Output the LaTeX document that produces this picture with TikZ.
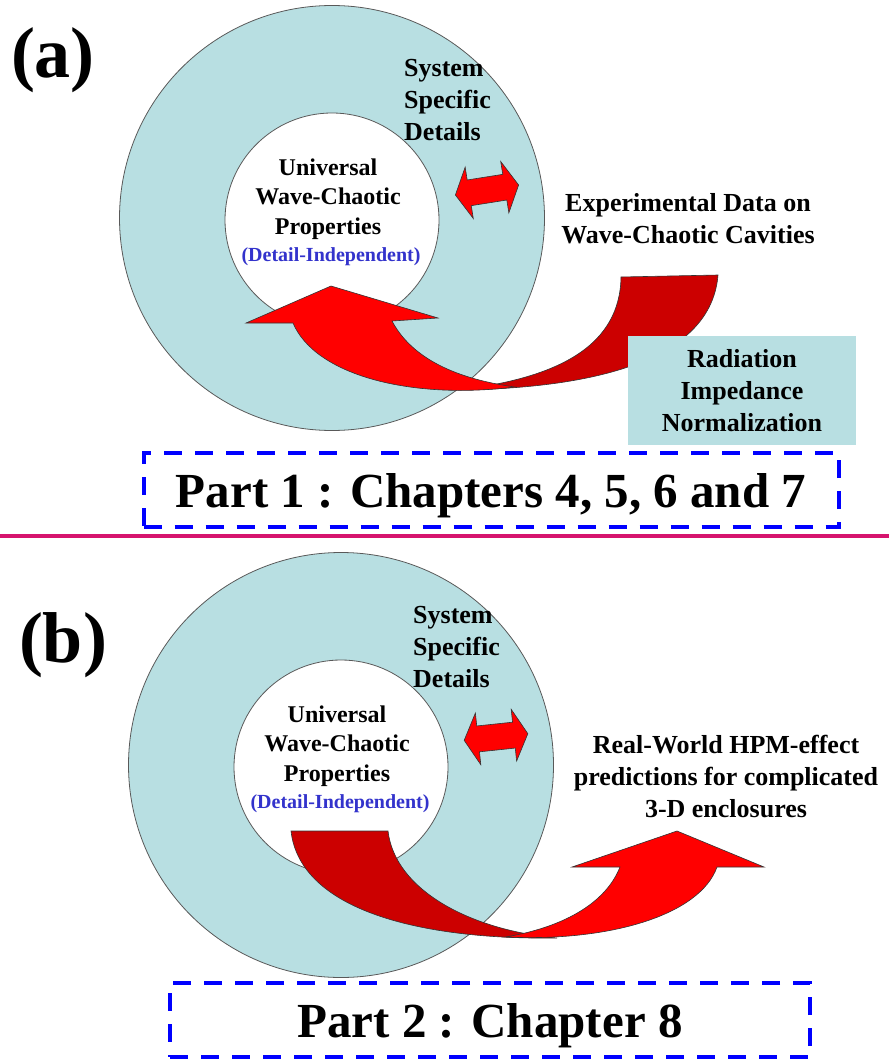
\documentclass[tikz,border=0pt]{standalone}
\usepackage{fontspec}
\setmainfont{Liberation Serif}
\usetikzlibrary{positioning}
\definecolor{ringblue}{RGB}{184,223,226}
\definecolor{darkred}{RGB}{204,0,0}
\definecolor{brightred}{RGB}{255,0,0}
\definecolor{noteblue}{RGB}{51,51,204}
\definecolor{dashblue}{RGB}{0,0,255}
\definecolor{divider}{RGB}{214,20,110}

\begin{document}
\begin{tikzpicture}[x=1pt, y=-1pt,
    ring/.style={circle, draw=black!65, line width=0.8pt, inner sep=0pt},
    bigtxt/.style={font=\fontsize{26}{32}\selectfont\bfseries, inner sep=0pt},
    coretxt/.style={font=\fontsize{24}{29.5}\selectfont\bfseries, align=center, inner sep=0pt},
    notetxt/.style={font=\fontsize{20}{24}\selectfont\bfseries, text=noteblue, inner sep=0pt},
    paneltag/.style={font=\fontsize{72}{80}\selectfont\bfseries, inner sep=0pt},
    partbox/.style={draw=dashblue, line width=4pt, dash pattern=on 18pt off 13pt,
        inner sep=0pt, text height=34pt, text depth=0pt, font=\fontsize{49}{56}\selectfont\bfseries},
    ribbon/.style={draw=black!80, line width=0.6pt}]
    \useasboundingbox (0,0) rectangle (889,1059);

    % rings, notes and double arrows of both panels
    \foreach \p/\dx/\dy/\ang in {a/0/0/9, b/9/547/6} {
        \node[ring, fill=ringblue, minimum size=425pt] (outer\p) at (332+\dx, 218+\dy) {};
        \node[ring, fill=white, minimum size=214pt] (inner\p) at (332+\dx, 220+\dy) {};
        \node[bigtxt, align=left, anchor=west] (sys\p) at (404+\dx, 100+\dy) {System\\Specific\\Details};
        \node[coretxt] (core\p) at (328+\dx, 199+\dy) {Universal\\Wave-Chaotic\\Properties};
        \node[notetxt] (note\p) at (331+\dx, 257+\dy) {(Detail-Independent)};
        \draw[ribbon, fill=brightred, shift={(487+\dx, 190+\dy)}, rotate=\ang]
            (-32,0) -- (-18,-26) -- (-18,-13) -- (18,-13) -- (18,-26) -- (32,0)
            -- (18,26) -- (18,13) -- (-18,13) -- (-18,26) -- cycle;
    }

    \node[paneltag] (taga) at (53,60) {(a)};
    \node[paneltag] (tagb) at (63,645) {(b)};

    % panel (a)
    \node[bigtxt, align=center] (expdata) at (688,219) {Experimental Data on\\Wave-Chaotic Cavities};
    \draw[ribbon, fill=darkred] (718,275) -- (621,277) .. controls (620,345) and (560,378) .. (458,390)
        .. controls (620,388) and (712,350) .. (718,275) -- cycle;
    \node[bigtxt, align=center, fill=ringblue, minimum width=228pt, minimum height=109pt] (radnorm)
        at (742,390.5) {Radiation\\Impedance\\Normalization};
    \draw[ribbon, fill=brightred] (246,323) -- (331,286) -- (438,318) -- (392,321)
        .. controls (410,355) and (450,378) .. (515,387)
        .. controls (410,400) and (315,375) .. (293,323) -- cycle;
    \node[partbox, minimum width=695pt, minimum height=74pt] (part1) at (491,490) {Part 1 : Chapters 4, 5, 6 and 7};

    \draw[divider, line width=3.5pt] (0,536) -- (889,536);

    % panel (b)
    \node[bigtxt, align=center] (hpm) at (726,776) {Real-World HPM-effect\\predictions for complicated\\3-D enclosures};
    \draw[ribbon, fill=darkred] (291,831) -- (388,831) .. controls (395,890) and (470,930) .. (557,938)
        .. controls (420,940) and (300,910) .. (291,831) -- cycle;
    \draw[ribbon, fill=brightred] (572,867) -- (677,831) -- (764,867) -- (717,867)
        .. controls (700,915) and (610,942) .. (505,937)
        .. controls (560,928) and (605,905) .. (620,867) -- cycle;
    \node[partbox, minimum width=640pt, minimum height=74pt] (part2) at (490,1020) {Part 2 : Chapter 8};
\end{tikzpicture}
\end{document}
